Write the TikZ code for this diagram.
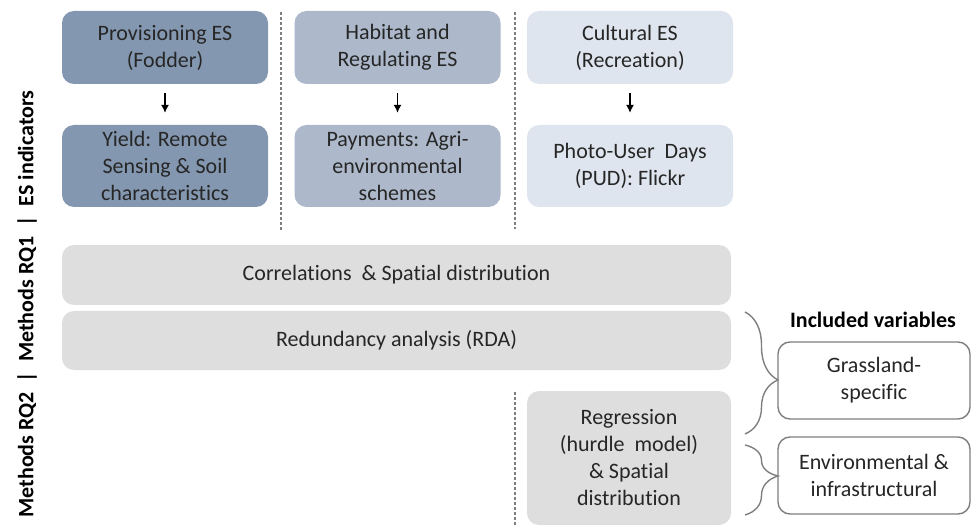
\documentclass[tikz,border=0pt]{standalone}
\usepackage{fontspec}
\setmainfont{Carlito}[Ligatures=NoCommon]
\usetikzlibrary{decorations.pathreplacing,arrows.meta}
\def\colsep{232.5}
\definecolor{provblue}{HTML}{8497B0}
\definecolor{habblue}{HTML}{ADB9CA}
\definecolor{cultblue}{HTML}{DFE5EE}
\definecolor{methgray}{HTML}{DEDEDE}
\definecolor{linegray}{HTML}{7F7F7F}

\begin{document}
\begin{tikzpicture}[x=1pt,y=-1pt,font=\fontsize{22}{27}\selectfont]
    \tikzstyle{esbox}=[rounded corners=12pt,align=center,text=black!85,inner sep=0pt,minimum width=206pt]
    \tikzstyle{service}=[esbox,minimum height=73pt]
    \tikzstyle{indicator}=[esbox,minimum height=82pt]
    \tikzstyle{methodbox}=[esbox,fill=methgray,minimum height=60pt]
    \tikzstyle{varbox}=[esbox,draw=linegray,line width=1.4pt,fill=white,minimum width=192pt,minimum height=77pt]
    \tikzstyle{colline}=[linegray,line width=1.2pt,dash pattern=on 3pt off 2pt]
    \tikzstyle{curly}=[linegray,line width=1.4pt,decorate]

    \useasboundingbox (0,0) rectangle (971,526);

    % ES and their indicators, one column each
    \foreach \name/\col/\i/\top/\bottom in {prov/provblue/0/{Provisioning ES\\(Fodder)}/{Yield: Remote\\Sensing \& Soil\\characteristics},
            hab/habblue/1/{Habitat and\\Regulating ES}/{Payments: Agri-\\environmental\\schemes},
            cult/cultblue/2/{Cultural ES\\(Recreation)}/{Photo-User~ Days\\(PUD): Flickr}} {
        \node[service,fill=\col] (\name-es) at (165+\i*\colsep,47.5) {\top};
        \node[indicator,fill=\col] (\name-ind) at (165+\i*\colsep,166) {\bottom};
        \draw[-{Latex[length=8pt,width=8pt]},line width=1.2pt,shorten <=9pt,shorten >=12pt] (\name-es) -- (\name-ind);
    }

    % separators
    \draw[colline] (281,12) -- (281,230);
    \draw[colline] (515,12) -- (515,229);
    \draw[colline] (515,392) -- (515,526);

    % methods
    \node[methodbox,minimum width=669pt] (corr) at (396.5,275) {Correlations~ \& Spatial distribution};
    \node[methodbox,minimum width=669pt,minimum height=59pt] (rda) at (396.5,340.5) {Redundancy analysis (RDA)};
    \node[methodbox,minimum width=204pt,minimum height=134pt] (regr) at (629,458) {Regression\\(hurdle~ model)\\\& Spatial\\distribution};

    % variables
    \node[font=\fontsize{22}{27}\selectfont\bfseries] (incl) at (873,320) {Included variables};
    \node[varbox] (grass) at (874,380.5) {Grassland-\\specific};
    \node[varbox] (env) at (874,475.5) {Environmental \&\\infrastructural};

    \coordinate (b1-top) at (745,312);
    \coordinate (b1-bot) at (745,434);
    \coordinate (b2-top) at (745,445);
    \coordinate (b2-bot) at (745,515);
    \draw[curly,decoration={brace,amplitude=33pt,aspect=0.557}] (b1-top) -- (b1-bot);
    \draw[curly,decoration={brace,amplitude=33pt,aspect=0.443}] (b2-top) -- (b2-bot);

    % row labels
    \node[rotate=90,font=\fontsize{22}{27}\selectfont\bfseries] (rows) at (27,304)
        {Methods RQ2~ |~ Methods RQ1~ |~ ES indicators};
\end{tikzpicture}
\end{document}
